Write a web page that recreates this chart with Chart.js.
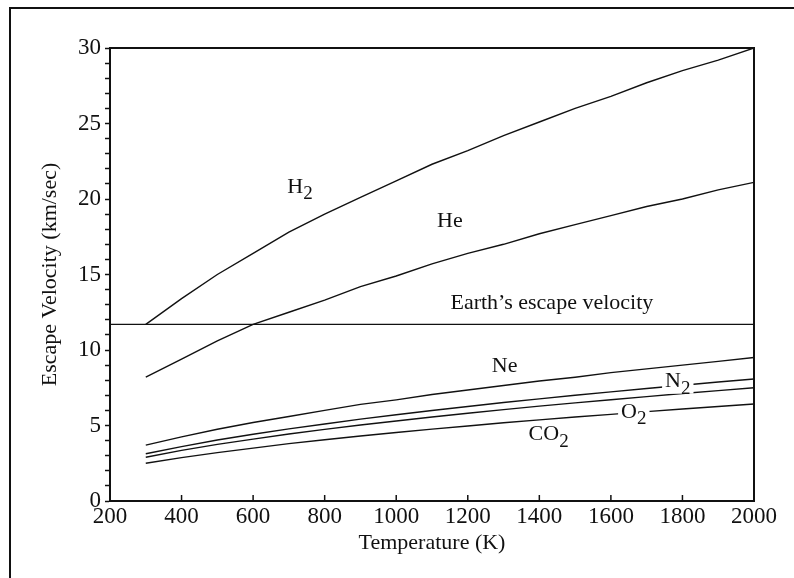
<!DOCTYPE html>
<html>
<head>
<meta charset="utf-8">
<script src="https://cdn.jsdelivr.net/npm/chart.js@4/dist/chart.umd.min.js"></script>
<style>
body{margin:0;background:#fff;}
#wrap{position:relative;width:794px;height:578px;}
#frame{position:absolute;left:9px;top:7px;right:0;bottom:0;border-top:2px solid #111;border-left:2px solid #111;pointer-events:none;}
</style>
</head>
<body>
<div id="wrap">
<canvas id="chart" width="794" height="578"></canvas>
<div id="frame"></div>
</div>
<script>

// temperatures (K)
const temps=[300,400,500,600,700,800,900,1000,1100,1200,1300,1400,1500,1600,1700,1800,1900,2000];

// escape velocity (km/sec)
const h2=[11.7,13.4,15.0,16.4,17.8,19.0,20.1,21.2,22.3,23.2,24.2,25.1,26.0,26.8,27.7,28.5,29.2,30.0];
const he=[8.2,9.4,10.6,11.7,12.5,13.3,14.2,14.9,15.7,16.4,17.0,17.7,18.3,18.9,19.5,20.0,20.6,21.1];
const ne=[3.7,4.25,4.75,5.2,5.6,6.0,6.4,6.7,7.05,7.35,7.65,7.95,8.2,8.5,8.75,9.0,9.25,9.5];
const n2=[3.13,3.6,4.04,4.42,4.78,5.1,5.42,5.71,5.99,6.26,6.52,6.76,7.0,7.23,7.45,7.67,7.88,8.08];
const o2=[2.9,3.35,3.75,4.1,4.44,4.74,5.03,5.3,5.56,5.81,6.05,6.28,6.5,6.71,6.91,7.12,7.31,7.5];
const co2=[2.5,2.87,3.2,3.5,3.8,4.06,4.3,4.54,4.76,4.97,5.18,5.37,5.56,5.74,5.92,6.09,6.26,6.42];

// earth's escape velocity line
const earthX=[200,2000];
const earthY=[11.7,11.7];

// curve labels: [text, subscript, x value, y value]
const labels=[
["H","2",731,20.8],
["He","",1150,18.5],
["Earth\u2019s escape velocity","",1435,13.1],
["Ne","",1303,8.9],
["N","2",1787,7.9],
["O","2",1664,5.9],
["CO","2",1426,4.4]
];

const serif="'Liberation Serif', 'DejaVu Serif', serif";

function pts(xs,ys){
return xs.map((x,i)=>({x:x,y:ys[i]}));
}

function line(d){
return {
data:d,
borderColor:"#111",
borderWidth:1.4,
pointRadius:0,
showLine:true,
tension:0,
fill:false
};
}

const extras={
id:"extras",
afterDatasetsDraw(chart){
let ctx=chart.ctx;
let a=chart.chartArea;
let xs=chart.scales.x;
let ys=chart.scales.y;

// box on top and right
ctx.save();
ctx.strokeStyle="#111";
ctx.lineWidth=2;
ctx.beginPath();
ctx.moveTo(a.left,a.top);
ctx.lineTo(a.right,a.top);
ctx.lineTo(a.right,a.bottom);
ctx.stroke();

// x ticks pointing inward
ctx.lineWidth=1.5;
for(let t=400;t<=1800;t+=200){
let px=xs.getPixelForValue(t);
ctx.beginPath();
ctx.moveTo(px,a.bottom);
ctx.lineTo(px,a.bottom-6);
ctx.stroke();
}

// labels with white backing, breaks the lines under them
ctx.textBaseline="middle";
labels.forEach(l=>{
let px=xs.getPixelForValue(l[2]);
let py=ys.getPixelForValue(l[3]);
ctx.font="22px "+serif;
let w1=ctx.measureText(l[0]).width;
ctx.font="19px "+serif;
let w2=l[1]?ctx.measureText(l[1]).width:0;
let w=w1+w2;
let x0=px-w/2;
ctx.fillStyle="#fff";
ctx.fillRect(x0-3,py-9,w+6,21);
ctx.fillStyle="#111";
ctx.textAlign="left";
ctx.font="22px "+serif;
ctx.fillText(l[0],x0,py);
if(l[1]){
ctx.font="19px "+serif;
ctx.fillText(l[1],x0+w1,py+7);
}
});
ctx.restore();
}
};

new Chart(document.getElementById("chart"),{
type:"scatter",
data:{
datasets:[
line(pts(temps,h2)),
line(pts(temps,he)),
line(pts(temps,ne)),
line(pts(temps,n2)),
line(pts(temps,o2)),
line(pts(temps,co2)),
line(pts(earthX,earthY))
]
},
options:{
responsive:false,
animation:false,
devicePixelRatio:1,
layout:{padding:{left:10,right:40,top:48,bottom:0}},
plugins:{legend:{display:false},tooltip:{enabled:false}},
scales:{
x:{
type:"linear",
min:200,
max:2000,
afterFit(s){s.height=77;},
ticks:{stepSize:200,color:"#111",font:{family:serif,size:23},padding:2,maxRotation:0,
callback:v=>String(v)},
grid:{display:true,drawOnChartArea:false,drawTicks:false},
border:{color:"#111",width:2},
title:{display:true,text:"Temperature (K)",color:"#111",font:{family:serif,size:22},padding:{top:0,bottom:22}}
},
y:{
min:0,
max:30,
afterFit(s){s.width=100;},
ticks:{stepSize:1,autoSkip:false,color:"#111",font:{family:serif,size:23},padding:4,
callback:v=>v%5===0?v:""},
grid:{drawOnChartArea:false,drawTicks:true,tickLength:5,color:"#111",tickWidth:1.5},
border:{color:"#111",width:2},
title:{display:true,text:"Escape Velocity (km/sec)",color:"#111",font:{family:serif,size:22},padding:{top:27,bottom:0}}
}
}
},
plugins:[extras]
});

</script>
</body>
</html>
